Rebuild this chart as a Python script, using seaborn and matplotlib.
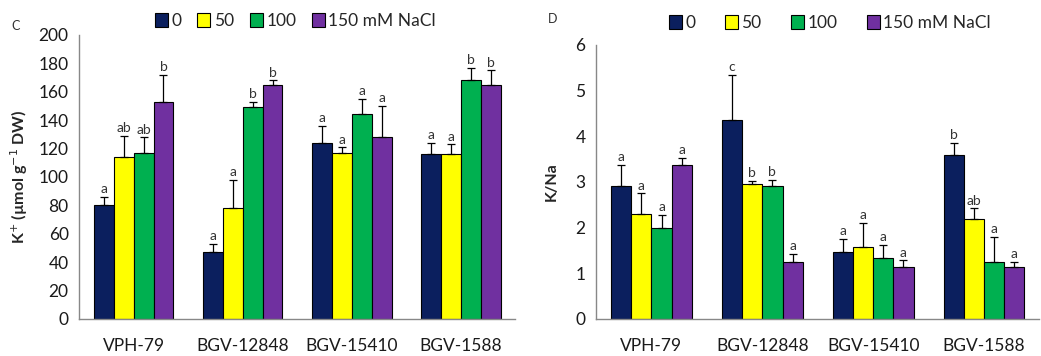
import numpy as np
import pandas as pd
import matplotlib
matplotlib.use("Agg")
import matplotlib.pyplot as plt
import seaborn as sns
from matplotlib.patches import Patch

# genotypes and salt levels
genotypes = ["VPH-79", "BGV-12848", "BGV-15410", "BGV-1588"]
nacl = ["0", "50", "100", "150 mM NaCl"]
colors = ["#0B1F5E", "#FFFF00", "#00B050", "#7030A0"]

# panel C: K+ (umol g-1 DW), rows = NaCl level, cols = genotype
k_mean = [
    [80, 47, 124, 116],
    [114, 78, 117, 116],
    [117, 149, 144, 168],
    [153, 165, 128, 165],
]
k_err = [
    [6, 6, 12, 8],
    [15, 20, 4, 7],
    [11, 4, 11, 9],
    [19, 3, 22, 10],
]
k_letters = [
    ["a", "a", "a", "a"],
    ["ab", "a", "a", "a"],
    ["ab", "b", "a", "b"],
    ["b", "b", "a", "b"],
]

# panel D: K/Na ratio
kna_mean = [
    [2.9, 4.35, 1.47, 3.58],
    [2.3, 2.95, 1.58, 2.18],
    [2.0, 2.9, 1.33, 1.25],
    [3.38, 1.25, 1.13, 1.13],
]
kna_err = [
    [0.48, 1.0, 0.28, 0.27],
    [0.45, 0.07, 0.52, 0.24],
    [0.27, 0.15, 0.29, 0.55],
    [0.14, 0.17, 0.15, 0.12],
]
kna_letters = [
    ["a", "c", "a", "b"],
    ["a", "b", "a", "ab"],
    ["a", "b", "a", "a"],
    ["a", "a", "a", "a"],
]


def long_df(means, errs, letters):
    rows = []
    for i, lvl in enumerate(nacl):
        for j, g in enumerate(genotypes):
            rows.append({"genotype": g, "NaCl": lvl, "value": means[i][j],
                         "err": errs[i][j], "letter": letters[i][j]})
    return pd.DataFrame(rows)


sns.set_style("white")
plt.rcParams["font.family"] = ["Lato", "DejaVu Sans"]

fig = plt.figure(figsize=(10.41, 3.56), dpi=100)
axC = fig.add_axes([0.076, 0.104, 0.419, 0.798])
axD = fig.add_axes([0.5725, 0.104, 0.426, 0.770])


def draw_panel(ax, df, ymax, ystep, letter_off):
    sns.barplot(data=df, x="genotype", y="value", hue="NaCl", order=genotypes,
                hue_order=nacl, palette=colors, errorbar=None, width=0.73,
                edgecolor="black", linewidth=0.8, legend=False, ax=ax, saturation=1)
    bar_sets = list(ax.containers)
    for i, cont in enumerate(bar_sets):
        sub = df[df["NaCl"] == nacl[i]].set_index("genotype").loc[genotypes]
        xs = [b.get_x() + b.get_width() / 2 for b in cont]
        ys = sub["value"].values
        es = sub["err"].values
        ax.errorbar(xs, ys, yerr=[np.zeros(len(es)), es], fmt="none",
                    ecolor="black", elinewidth=0.9, capsize=3, capthick=0.9)
        for x, y, e, t in zip(xs, ys, es, sub["letter"].values):
            ax.text(x, y + e + letter_off, t, ha="center", va="bottom",
                    fontsize=10, color="#333333")
    ax.set_xlim(-0.5, 3.5)
    ax.set_ylim(0, ymax)
    ax.set_yticks(np.arange(0, ymax + ystep / 2, ystep))
    ax.set_xticks(range(4))
    ax.set_xticklabels(genotypes)
    ax.set_xticks([0.5, 1.5, 2.5, 3.5], minor=True)
    ax.tick_params(axis="x", which="major", length=0, pad=14, labelsize=12.5,
                   labelcolor="#1a1a1a")
    ax.tick_params(axis="x", which="minor", length=6, color="#888888", direction="out")
    ax.tick_params(axis="y", length=4, color="#888888", direction="out",
                   labelsize=12.5, labelcolor="#1a1a1a")
    for s in ["top", "right"]:
        ax.spines[s].set_visible(False)
    for s in ["left", "bottom"]:
        ax.spines[s].set_color("#888888")
        ax.spines[s].set_linewidth(1.0)
    ax.set_xlabel("")


draw_panel(axC, long_df(k_mean, k_err, k_letters), 200, 20, 1)
draw_panel(axD, long_df(kna_mean, kna_err, kna_letters), 6, 1, 0.04)

axC.set_ylabel("K$^{+}$ (µmol g$^{-1}$ DW)", fontsize=11.5, fontweight="bold", labelpad=6)
axD.set_ylabel("K/Na", fontsize=11.5, fontweight="bold", labelpad=12)

handles = [Patch(facecolor=c, edgecolor="black", linewidth=0.8) for c in colors]
fig.legend(handles, nacl, loc="center", bbox_to_anchor=(0.284, 0.942), ncol=4,
           frameon=False, fontsize=12.5, handlelength=0.75, handleheight=0.9,
           handletextpad=0.2, columnspacing=0.9, borderaxespad=0)
fig.legend(handles, nacl, loc="center", bbox_to_anchor=(0.797, 0.936), ncol=4,
           frameon=False, fontsize=12.5, handlelength=0.75, handleheight=0.9,
           handletextpad=0.2, columnspacing=1.7, borderaxespad=0)

fig.text(0.011, 0.915, "C", fontsize=9, color="#333333")
fig.text(0.526, 0.935, "D", fontsize=9, color="#333333")

fig.savefig("out.png", dpi=100)
